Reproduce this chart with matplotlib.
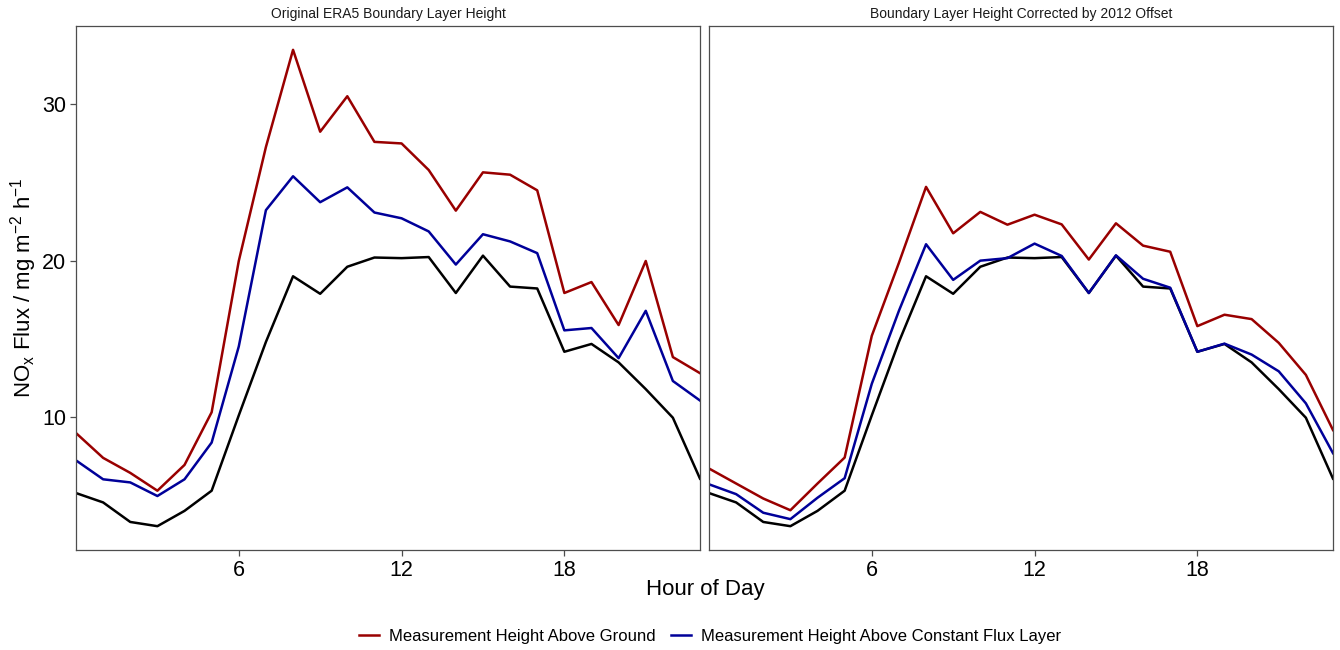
"""Diurnal NOx flux profiles for the two boundary layer height treatments."""

import matplotlib

matplotlib.use("Agg")

import matplotlib.pyplot as plt
import numpy as np
from matplotlib.lines import Line2D

plt.rcParams["font.family"] = ["Liberation Sans", "DejaVu Sans"]
plt.rcParams["mathtext.fontset"] = "custom"
plt.rcParams["mathtext.rm"] = "Liberation Sans"
plt.rcParams["mathtext.it"] = "Liberation Sans:italic"

HOURS = list(range(24))

PANEL_TITLES = [
    "Original ERA5 Boundary Layer Height",
    "Boundary Layer Height Corrected by 2012 Offset",
]

# original ERA5 BLH
ERA5_GROUND = [8.97, 7.38, 6.42, 5.28, 6.93, 10.3, 19.98, 27.27, 33.49, 28.25, 30.52, 27.6,
               27.5, 25.8, 23.2, 25.65, 25.5, 24.5, 17.93, 18.63, 15.88, 19.98, 13.83, 12.8]
ERA5_CFL = [7.22, 6.01, 5.81, 4.94, 6.01, 8.36, 14.51, 23.23, 25.4, 23.74, 24.69, 23.08,
            22.71, 21.87, 19.75, 21.69, 21.23, 20.48, 15.54, 15.69, 13.76, 16.79, 12.3, 11.05]

# BLH corrected by the 2012 offset
CORR_GROUND = [6.7, 5.74, 4.78, 4.03, 5.74, 7.4, 15.19, 19.86, 24.72, 21.75, 23.12, 22.3,
               22.94, 22.32, 20.07, 22.39, 20.96, 20.57, 15.81, 16.54, 16.26, 14.74, 12.69, 9.16]
CORR_CFL = [5.69, 5.06, 3.87, 3.46, 4.83, 6.08, 12.12, 16.79, 21.05, 18.77, 20.0, 20.16,
            21.09, 20.3, 17.93, 20.34, 18.84, 18.27, 14.17, 14.69, 13.99, 12.92, 10.87, 7.68]

# reference flux, the same in both panels
REFERENCE = [5.13, 4.53, 3.28, 3.01, 3.99, 5.28, 10.1, 14.8, 19.0, 17.88, 19.61, 20.2,
             20.16, 20.23, 17.93, 20.32, 18.34, 18.22, 14.17, 14.67, 13.49, 11.78, 9.95, 6.05]

SERIES_LABELS = [
    "Measurement Height Above Ground",
    "Measurement Height Above Constant Flux Layer",
]
RED = "#990000"
BLUE = "#000099"

panels = [
    (ERA5_GROUND, ERA5_CFL, REFERENCE),
    (CORR_GROUND, CORR_CFL, REFERENCE),
]

all_vals = np.concatenate([np.asarray(v) for p in panels for v in p])
span = all_vals.max() - all_vals.min()
ylim = (all_vals.min() - 0.05 * span, all_vals.max() + 0.05 * span)

fig = plt.figure(figsize=(13.4, 6.5), dpi=100)
W, H = 1340, 650
boxes = [(76, 26, 700, 550), (709, 26, 1333, 550)]

for i, ((x0, y0, x1, y1), (ground, cfl, ref), title) in enumerate(zip(boxes, panels, PANEL_TITLES)):
    ax = fig.add_axes([x0 / W, 1 - y1 / H, (x1 - x0) / W, (y1 - y0) / H])
    ax.plot(HOURS, ref, color="black", linewidth=1.8)
    ax.plot(HOURS, ground, color=RED, linewidth=1.8)
    ax.plot(HOURS, cfl, color=BLUE, linewidth=1.8)
    ax.set_xlim(0, 23)
    ax.set_ylim(*ylim)
    ax.set_xticks([6, 12, 18])
    ax.set_title(title, fontsize=10, color="#1a1a1a", pad=6)
    for spine in ax.spines.values():
        spine.set_color("#4d4d4d")
        spine.set_linewidth(0.9)
    ax.tick_params(axis="both", direction="out", length=4, width=0.9, color="#4d4d4d",
                   labelsize=15.5, labelcolor="black", pad=3)
    if i == 0:
        ax.set_yticks([10, 20, 30])
        ax.set_ylabel(r"NO$_\mathrm{x}$ Flux / mg m$^{-2}$ h$^{-1}$", fontsize=16, labelpad=2)
    else:
        ax.set_yticks([])

fig.text(705 / W, 1 - 590 / H, "Hour of Day", ha="center", va="center", fontsize=16)

handles = [Line2D([], [], color=RED, linewidth=1.8), Line2D([], [], color=BLUE, linewidth=1.8)]
fig.legend(handles, SERIES_LABELS, loc="center", bbox_to_anchor=(710 / W, 1 - 636 / H),
           ncol=2, frameon=False, fontsize=12, handlelength=1.2, handletextpad=0.6,
           columnspacing=0.9)

fig.savefig("out.png", dpi=100)
plt.close(fig)
